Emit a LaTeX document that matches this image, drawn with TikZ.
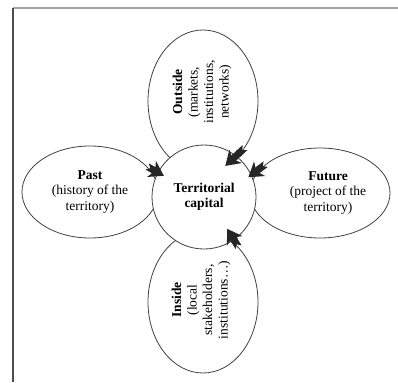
\documentclass[tikz,border=0pt]{standalone}
\usepackage{fontspec}
\setmainfont{Liberation Serif}
\usetikzlibrary{arrows.meta, shapes.geometric}

\begin{document}
\begin{tikzpicture}[
        x=1pt, y=-1pt,
        font=\fontsize{13.5}{15.5}\selectfont,
        petal/.style={draw=black!75, line width=0.8pt, ellipse, inner sep=0pt},
        hub/.style={draw=black!75, line width=0.8pt, circle, fill=white, minimum size=104pt, inner sep=0pt, align=center},
        txt/.style={align=center, inner sep=0pt},
        push/.style={{Triangle Cap[reversed]}-{Stealth[length=14pt, width=18pt, inset=4pt]}, line width=7pt, draw=black!85}
    ]
        \useasboundingbox (0,0) rectangle (398,382);
        % --- Rahmen ---
        \draw[black!35, line width=1.2pt] (13,8) -- (398,8);
        \draw[black!70, line width=1.2pt] (13,8) -- (13,382);

        % --- Ellipsen ---
        \node[petal, minimum width=110pt, minimum height=142pt] (outside) at (203,101) {};
        \node[petal, minimum width=110pt, minimum height=142pt] (inside) at (203,302) {};
        \node[petal, minimum width=136pt, minimum height=92pt] (past) at (90,192) {};
        \node[petal, minimum width=140pt, minimum height=90pt] (future) at (320,193) {};
        \node[hub] (cap) at (204,197) {\textbf{Territorial}\\\textbf{capital}};

        % --- Texte ---
        \node[txt, rotate=90] (outsidetxt) at (202,92) {\textbf{Outside}\\(markets,\\institutions,\\networks)};
        \node[txt, rotate=90] (insidetxt) at (201,300) {\textbf{Inside}\\(local\\stakeholders,\\institutions\dots)};
        \node[txt] (pasttxt) at (90,192) {\textbf{Past}\\(history of the\\territory)};
        \node[txt] (futuretxt) at (328,193) {\textbf{Future}\\(project of the\\territory)};

        % --- Pfeile ---
        \draw[push, shorten >=-7pt] (past.24) -- (cap.152);
        \draw[push, shorten >=-15pt] (outside.-48) -- (cap.52);
        \draw[push, shorten >=-4pt] (future.152) -- (cap.25);
        \draw[push, shorten >=-13pt] (inside.57) -- (cap.-55);
    \end{tikzpicture}
\end{document}
